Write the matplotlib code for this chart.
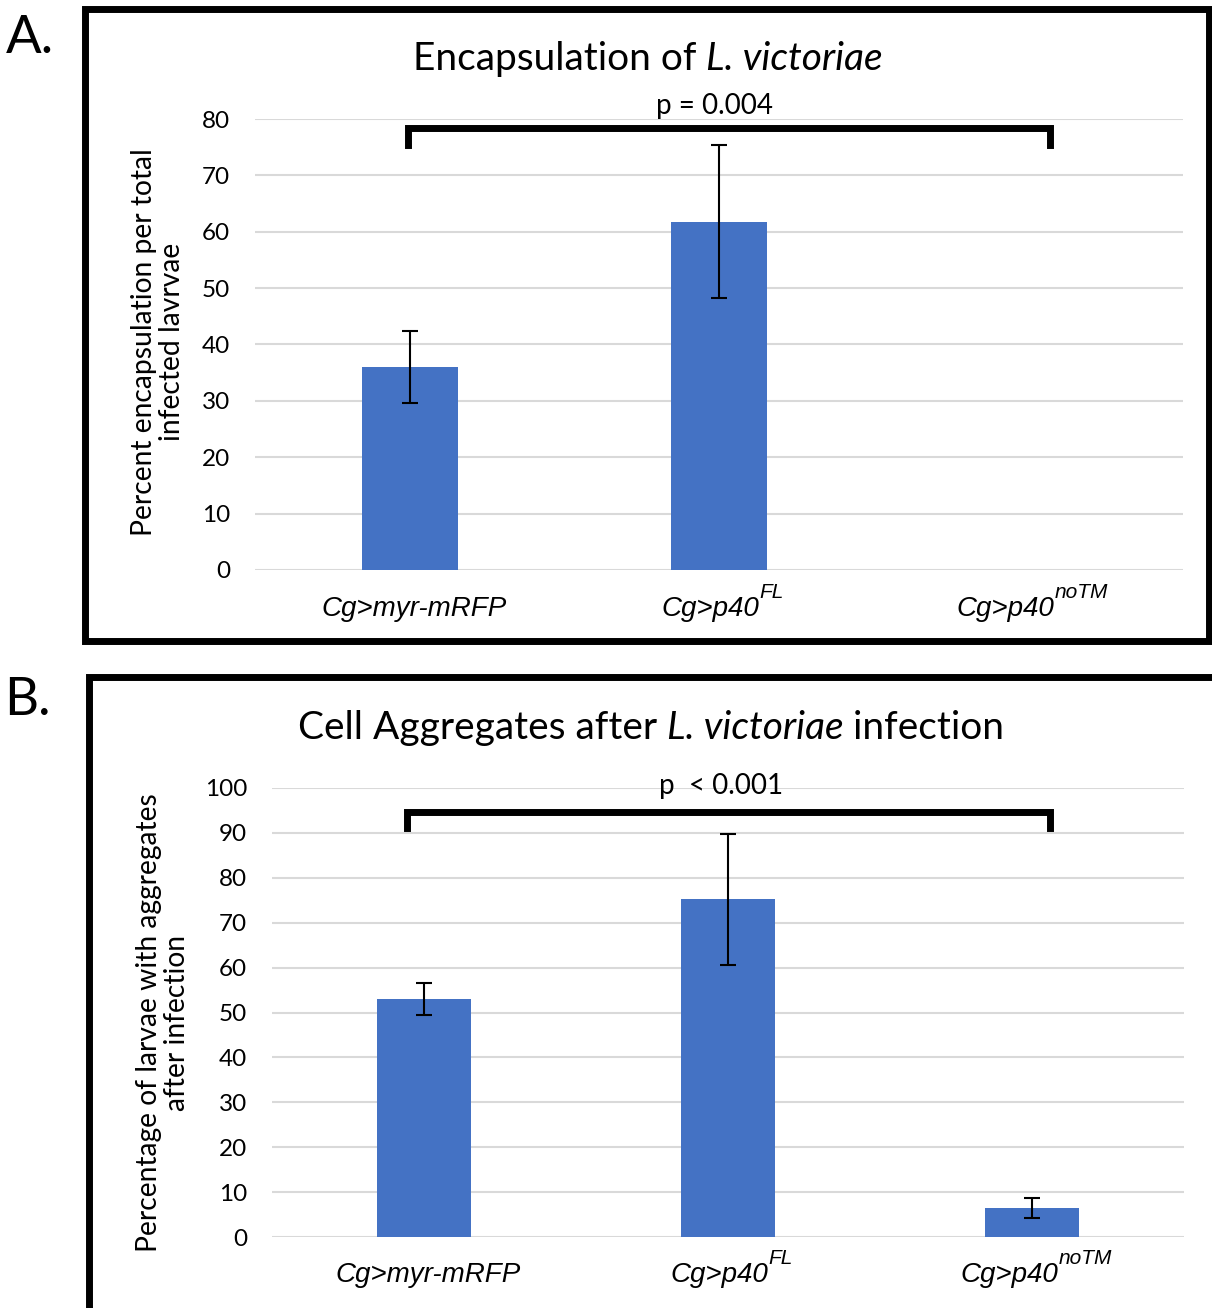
import matplotlib
matplotlib.use("Agg")
import matplotlib.pyplot as plt
from matplotlib.patches import Rectangle
import numpy as np

# ---------------- data ----------------
cat_main = ["Cg>myr-mRFP", "Cg>p40", "Cg>p40"]
cat_sup = ["", "FL", "noTM"]
encap_values = [36.0, 61.8, 0.0]
encap_err = [6.4, 13.6, 0.0]
agg_values = [53.0, 75.2, 6.5]
agg_err = [3.6, 14.6, 2.2]
encap_yticks = [0, 10, 20, 30, 40, 50, 60, 70, 80]
agg_yticks = [0, 10, 20, 30, 40, 50, 60, 70, 80, 90, 100]

BAR = "#4472C4"
GRID = "#D9D9D9"
W, H = 1212, 1308

fig = plt.figure(figsize=(W / 100, H / 100), dpi=100)


def fx(px):
    return px / W


def fy(py):
    return 1 - py / H


def make_axes(left, right, y0, ytop):
    return fig.add_axes([fx(left), fy(y0), fx(right - left), (y0 - ytop) / H])


def draw_panel(ax, values, errs, yticks, ymax):
    x = np.arange(len(cat_main))
    ax.bar(x, values, width=0.31, color=BAR, zorder=3)
    idx = [i for i, e in enumerate(errs) if e > 0]
    ax.errorbar([x[i] for i in idx], [values[i] for i in idx], yerr=[errs[i] for i in idx],
                fmt="none", ecolor="black", elinewidth=1.5, capsize=5.5, capthick=1.5, zorder=4)
    ax.set_xlim(-0.5, len(cat_main) - 0.5)
    ax.set_ylim(0, ymax)
    ax.set_yticks(yticks)
    ax.set_yticklabels([str(t) for t in yticks], fontfamily="Lato", fontsize=17.5)
    ax.tick_params(axis="y", length=0, pad=18)
    ax.set_xticks(x)
    ax.set_xticklabels([""] * len(x))
    ax.tick_params(axis="x", length=0)
    for s in ax.spines.values():
        s.set_visible(False)
    ax.yaxis.grid(True, color=GRID, lw=1.5, zorder=0)
    ax.set_axisbelow(True)


axA = make_axes(255, 1183, 570, 119)
draw_panel(axA, encap_values, encap_err, encap_yticks, 80)
axB = make_axes(272, 1184, 1237, 788)
draw_panel(axB, agg_values, agg_err, agg_yticks, 100)


def px2dx(ax_left, ax_w, px):
    return -0.5 + 3 * (px - ax_left) / ax_w


def bracket(ax, xl, xr, ytop, ybot):
    ax.plot([xl, xl, xr, xr], [ybot, ytop, ytop, ybot], color="black", lw=5,
            solid_joinstyle="miter", clip_on=False, zorder=5)


bracket(axA, px2dx(255, 928, 408), px2dx(255, 928, 1050), (570 - 128) / 5.6375, (570 - 145) / 5.6375)
bracket(axB, px2dx(272, 912, 407), px2dx(272, 912, 1050), (1237 - 812) / 4.49, (1237 - 828) / 4.49)

fig.text(fx(715), fy(114), "p = 0.004", ha="center", va="baseline", fontfamily="Lato", fontsize=20)
fig.text(fx(721), fy(794), "p  < 0.001", ha="center", va="baseline", fontfamily="Lato", fontsize=20)

# y labels
fig.text(fx(158), fy(342), "Percent encapsulation per total\ninfected lavrvae", rotation=90,
         ha="center", va="center", fontfamily="Lato", fontsize=20.3, linespacing=1.05)
fig.text(fx(163), fy(1023), "Percentage of larvae with aggregates\nafter infection", rotation=90,
         ha="center", va="center", fontfamily="Lato", fontsize=20.3, linespacing=1.05)

fig.canvas.draw()
renderer = fig.canvas.get_renderer()


def composite(pieces, cx, by):
    """pieces: (string, style, size, baseline_offset_px, family)"""
    texts = []
    for s, style, size, dy, fam in pieces:
        t = fig.text(0, fy(by - dy), s, fontfamily=fam, fontstyle=style, fontsize=size,
                     ha="left", va="baseline")
        texts.append(t)
    widths = [t.get_window_extent(renderer).width if t.get_text() else 0 for t in texts]
    x = cx - sum(widths) / 2
    for t, w in zip(texts, widths):
        t.set_x(x / W)
        x += w


# titles
composite([("Encapsulation of ", "normal", 28, 0, "Lato"), ("L. victoriae", "italic", 28, 0, "Lato")], 648, 70)
composite([("Cell Aggregates after ", "normal", 28, 0, "Lato"), ("L. victoriae", "italic", 28, 0, "Lato"),
           (" infection", "normal", 28, 0, "Lato")], 651, 739)

# x category labels
for ax, base in ((axA, 616), (axB, 1282)):
    for i, (m, s) in enumerate(zip(cat_main, cat_sup)):
        cx = ax.transData.transform((i, 0))[0]
        pieces = [(m, "italic", 20, 0, "Liberation Sans")]
        if s:
            pieces.append((s, "italic", 15, 18, "Liberation Sans"))
        composite(pieces, cx + 4, base)

# panel letters
fig.text(fx(6), fy(53), "A.", fontfamily="Lato", fontsize=38, ha="left", va="baseline")
fig.text(fx(4), fy(715), "B.", fontfamily="Lato", fontsize=38, ha="left", va="baseline")

# frames
fig.add_artist(Rectangle((fx(84.5), fy(641)), fx(1208.5 - 84.5), (641 - 8.5) / H, fill=False,
                         edgecolor="black", lw=5, transform=fig.transFigure))
fig.add_artist(Rectangle((fx(89), fy(1309.5)), fx(1213.5 - 89), (1309.5 - 676.5) / H, fill=False,
                         edgecolor="black", lw=5, transform=fig.transFigure))

fig.savefig("out.png", dpi=100)
